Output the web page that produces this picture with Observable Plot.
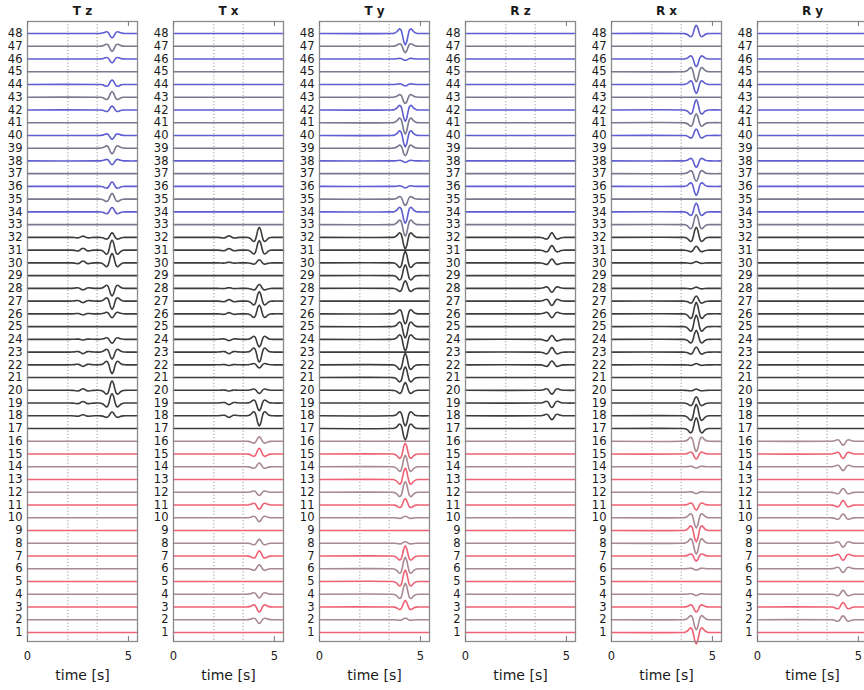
<!DOCTYPE html>
<html><head><meta charset="utf-8">
<script src="https://cdn.jsdelivr.net/npm/d3@7"></script>
<script src="https://cdn.jsdelivr.net/npm/@observablehq/plot@0.6"></script>
<style>
html,body{margin:0;padding:0;background:#fff;overflow:hidden;width:864px;height:690px}
#row{display:flex;width:900px}
#row > svg{flex:none;display:block}
</style></head><body><div id="row"></div>
<script>
// ---- data ----
const panels = ["T z", "T x", "T y", "R z", "R x", "R y"];
const traceLabels = d3.range(1, 49);          // trace numbers 1..48
const xTicks = [0, 5];
const timeDomain = [0, 5.45];
const markerTimes = [2.0, 3.45];
const arrivals = [4.19, 4.25, 4.25, 4.28, 4.2, 4.24];   // main arrival time per panel
const precursorArrival = 2.75;
// wavelet shape (offset in s, normalised amplitude)
const waveletOffsets = [-0.7, -0.55, -0.42, -0.35, -0.28, -0.21, -0.14, -0.07, 0, 0.07, 0.14, 0.21, 0.28, 0.35, 0.42, 0.55, 0.7];
const waveletShape   = [0, -0.02, -0.15, -0.3, -0.4, -0.3, 0.14, 0.73, 1, 0.73, 0.14, -0.3, -0.4, -0.3, -0.15, -0.02, 0];

// amplitudes of traces 1..48, in units of trace spacing (+ = up)
const ampTz = [0,0,0,0, 0,0,0,0, 0,0,0,0, 0,0,0,0,
  0,0.3,0.75,0.75, 0,-0.7,-0.55,-0.3, 0,-0.3,-0.65,-0.6, 0,0.75,0.8,0.35,
  0,0.35,0.45,0.35, 0,-0.3,-0.45,-0.3, 0,0.3,0.45,0.35, 0,-0.3,-0.4,-0.35];
const preTz = [0,0,0,0, 0,0,0,0, 0,0,0,0, 0,0,0,0,
  0,0.08,0.12,0.12, 0,-0.12,-0.12,-0.05, 0,-0.08,-0.12,-0.12, 0,0.15,0.15,0.1,
  0,0,0,0, 0,0,0,0, 0,0,0,0, 0,0,0,0];
const ampTx = [0,-0.3,-0.4,-0.3, 0,0.3,0.4,0.3, 0,-0.3,-0.35,-0.25, 0,0.3,0.45,0.35,
  0,-0.8,-0.6,-0.25, 0,-0.25,-0.8,-0.6, 0,0.7,0.75,0.3, 0,0.25,0.75,0.8,
  0,0,0,0, 0,0,0,0, 0,0,0,0, 0,0,0,0];
const preTx = [0,0,0,0, 0,0,0,0, 0,0,0,0, 0,0,0,0,
  0,-0.12,-0.12,-0.05, 0,-0.05,-0.12,-0.1, 0,0.1,0.12,0.05, 0,0.05,0.12,0.12,
  0,0,0,0, 0,0,0,0, 0,0,0,0, 0,0,0,0];
const ampTy = [0,0.12,0.5,0.85, 0.9,0.9,0.8,0.12, 0,0.12,0.5,0.85, 0.9,0.9,0.85,0,
  -0.9,-0.8,0,0.6, 0.85,0.9,0,-0.9, -0.9,-0.8,0,0.6, 0.85,0.9,0,-0.9,
  -0.9,-0.9,-0.5,-0.12, 0,-0.12,-0.6,-0.9, -0.9,-0.9,-0.5,-0.12, 0,-0.12,-0.5,-0.9];
const ampRz = [0,0,0,0, 0,0,0,0, 0,0,0,0, 0,0,0,0,
  0,-0.3,-0.35,-0.3, 0,0.3,0.35,0.3, 0,-0.3,-0.35,-0.3, 0,0.3,0.35,0.35,
  0,0,0,0, 0,0,0,0, 0,0,0,0, 0,0,0,0];
const ampRx = [-0.9,-0.8,-0.4,-0.1, 0,-0.1,-0.4,-0.85, -0.9,-0.8,-0.4,-0.1, 0,-0.1,-0.4,-0.8,
  0.85,0.9,0.5,0.1, 0,0.1,0.4,0.7, 0.9,0.9,0.4,0.1, 0,0.1,0.3,0.8,
  0.8,0.7,0,-0.7, -0.6,-0.5,0,0.5, 0.7,0.8,0,-0.7, -0.8,-0.6,0,0.65];
const ampRy = [0,0.3,0.35,0.3, 0,-0.3,-0.35,-0.3, 0,0.3,0.35,0.3, 0,-0.3,-0.35,-0.3,
  0,0,0,0, 0,0,0,0, 0,0,0,0, 0,0,0,0,
  0,0,0,0, 0,0,0,0, 0,0,0,0, 0,0,0,0];
const mainAmps = [ampTz, ampTx, ampTy, ampRz, ampRx, ampRy];
const precursorAmps = [preTz, preTx, null, null, null, null];

// ---- styling ----
const colorStrongRed = "#ef6174", colorWeakRed = "#a88a92";
const colorBlack = "#3c3c3c";
const colorStrongBlue = "#5e5ed2", colorWeakBlue = "#78788f";
function traceColor(id) {
  if (id <= 16) return id % 2 === 1 ? colorStrongRed : colorWeakRed;
  if (id <= 32) return colorBlack;
  return id % 2 === 0 ? colorStrongBlue : colorWeakBlue;
}

function traceRows(amps, arrival, pre) {
  const rows = [];
  traceLabels.forEach((id, i) => {
    const pts = [[timeDomain[0], 0]];
    if (pre && pre[i]) waveletOffsets.forEach((o, k) => pts.push([precursorArrival + o, pre[i] * waveletShape[k]]));
    if (amps[i]) waveletOffsets.forEach((o, k) => pts.push([arrival + o, amps[i] * waveletShape[k]]));
    pts.push([timeDomain[1], 0]);
    pts.forEach(([t, v]) => rows.push({id, t, y: id + v, c: traceColor(id)}));
  });
  return rows;
}

const W = 146, H = 690, mT = 21, mB = 49, mL = 27, mR = 9;
const plotH = H - mT - mB;
const row = document.getElementById("row");

panels.forEach((name, p) => {
  const data = traceRows(mainAmps[p], arrivals[p], precursorAmps[p]);
  const chart = Plot.plot({
    width: W, height: H,
    marginTop: mT, marginBottom: mB, marginLeft: mL, marginRight: mR,
    style: {fontFamily: "DejaVu Sans, sans-serif", fontSize: "11px", background: "#fff", color: "#222", overflow: "visible"},
    x: {domain: timeDomain},
    y: {domain: [0.29, 48.94]},
    color: {type: "identity"},
    marks: [
      Plot.ruleX(markerTimes, {stroke: "#999", strokeDasharray: "1.2,2", strokeWidth: 1}),
      Plot.line(data, {x: "t", y: "y", z: "id", stroke: "c", strokeWidth: 1.6, curve: "catmull-rom"}),
      Plot.frame({stroke: "#8a8a8a", strokeWidth: 1.3}),
      Plot.ruleX(xTicks, {stroke: "#777", insetTop: plotH - 5}),
      Plot.ruleX(xTicks, {stroke: "#777", insetBottom: plotH - 5}),
      Plot.axisY({ticks: traceLabels, tickFormat: d => d, tickSize: 0, tickPadding: 5, label: null, fontSize: 11.5, fill: "#1a1a1a"}),
      Plot.axisX({ticks: xTicks, tickFormat: d => d, tickSize: 0, tickPadding: 10, label: null, fontSize: 11.5, fill: "#1a1a1a"}),
      Plot.text([name], {frameAnchor: "top", lineAnchor: "middle", dy: -10, fontWeight: "bold", fontSize: 12, fill: "#1a1a1a"}),
      Plot.text(["time [s]"], {frameAnchor: "bottom", lineAnchor: "middle", dy: 34, fontSize: 14, fill: "#1a1a1a"})
    ]
  });
  row.appendChild(chart);
});
</script>
</body></html>
